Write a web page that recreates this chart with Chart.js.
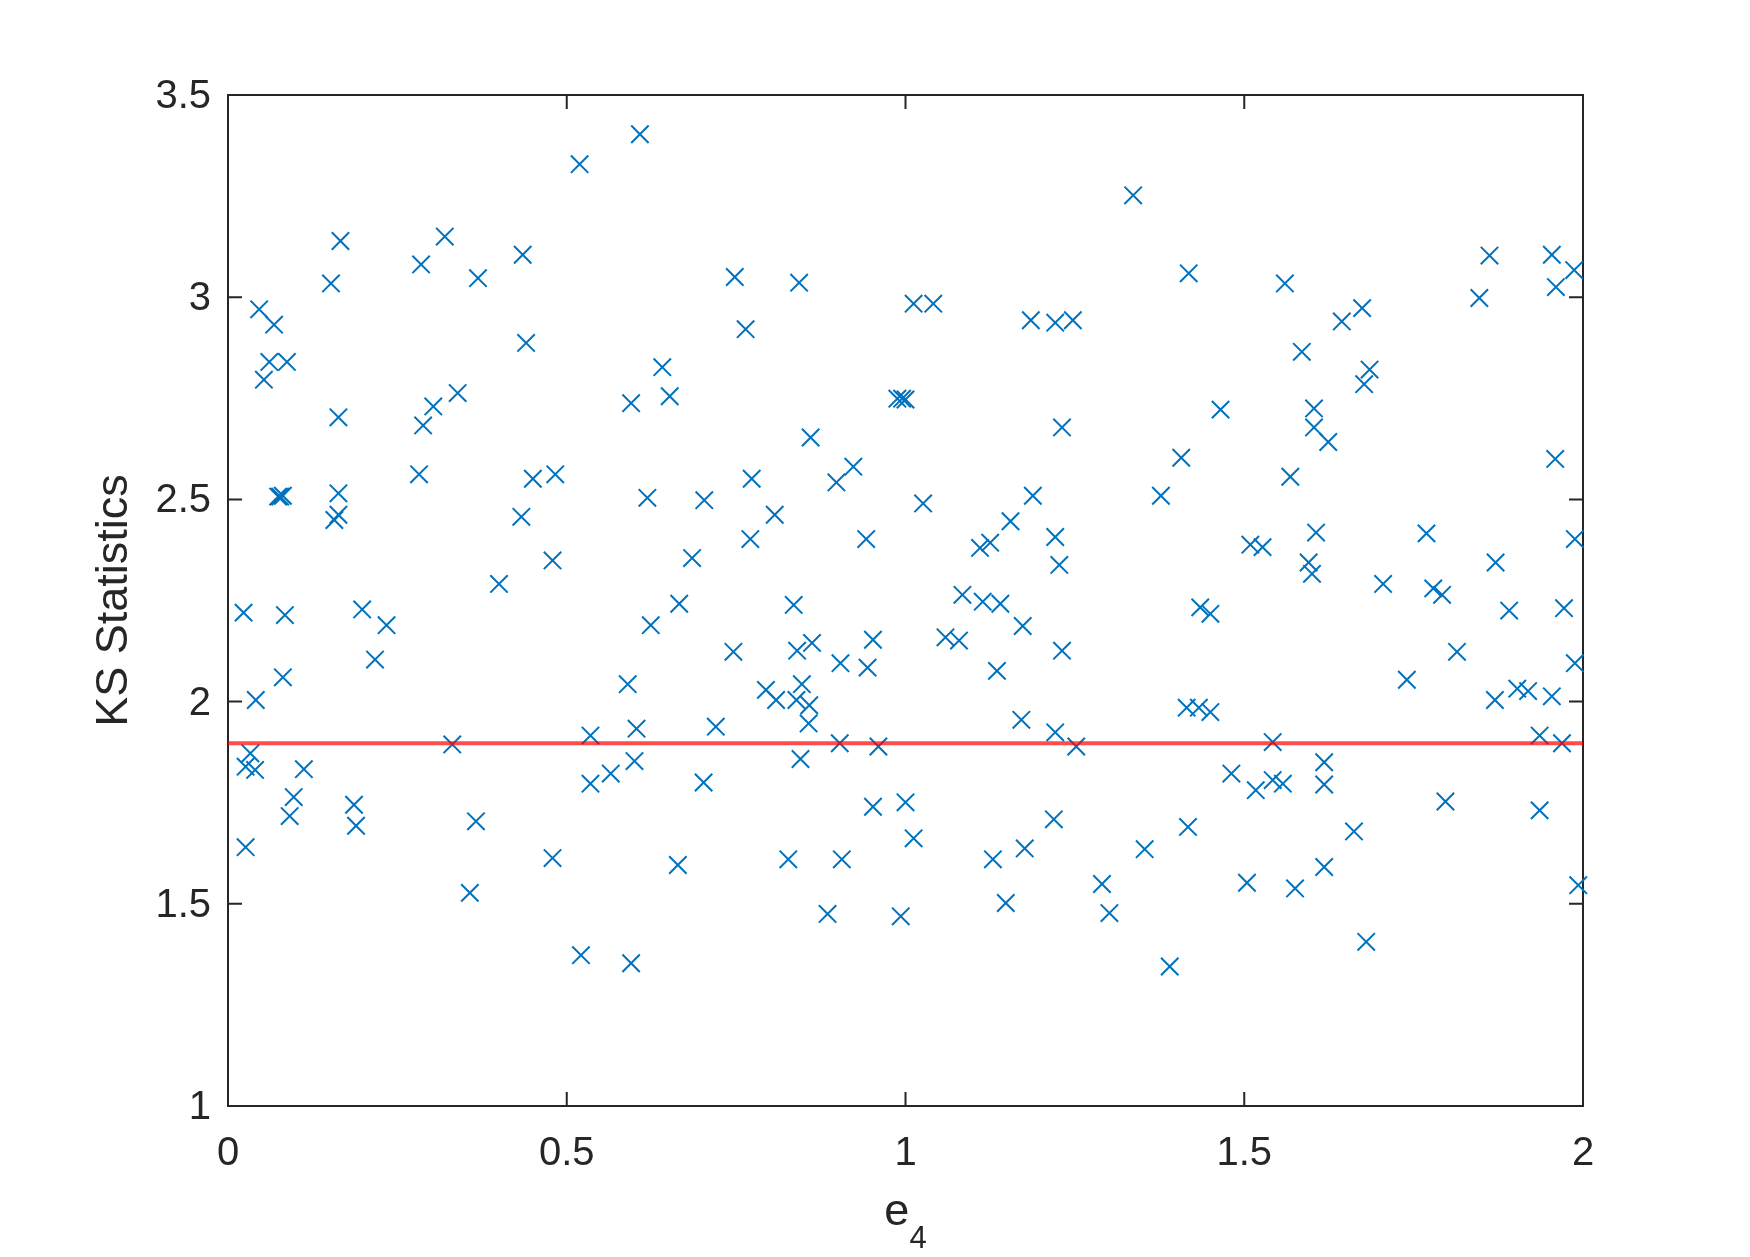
<!DOCTYPE html>
<html>
<head>
<meta charset="utf-8">
<script src="https://cdn.jsdelivr.net/npm/chart.js@4"></script>
<style>
  html, body { margin: 0; padding: 0; background: #fff; }
  canvas { display: block; }
</style>
</head>
<body>
<canvas id="ksChart" width="1750" height="1257"></canvas>
<script>
// e4 parameter and the KS statistic for each run
const e4Values = [
  0.023, 0.046, 0.068, 0.061, 0.053, 0.087, 0.074, 0.077, 0.081, 0.081,
  0.084, 0.041, 0.033, 0.026, 0.040, 0.026, 0.091, 0.097, 0.112, 0.152,
  0.166, 0.163, 0.163, 0.157, 0.163, 0.186, 0.189, 0.198, 0.217, 0.234,
  0.285, 0.320, 0.303, 0.288, 0.282, 0.339, 0.331, 0.369, 0.366, 0.357,
  0.400, 0.435, 0.440, 0.433, 0.450, 0.483, 0.479, 0.479, 0.519, 0.608,
  0.521, 0.535, 0.535, 0.565, 0.595, 0.590, 0.603, 0.600, 0.595, 0.619,
  0.624, 0.641, 0.652, 0.666, 0.664, 0.685, 0.703, 0.702, 0.720, 0.748,
  0.764, 0.773, 0.771, 0.746, 0.794, 0.807, 0.809, 0.843, 0.835, 0.840,
  0.847, 0.839, 0.858, 0.857, 0.845, 0.827, 0.860, 0.862, 0.885, 0.898,
  0.923, 0.904, 0.903, 0.906, 0.942, 0.944, 0.952, 0.952, 0.960, 0.988,
  0.995, 1.000, 0.993, 1.000, 1.012, 1.012, 1.041, 1.026, 1.059, 1.079,
  1.084, 1.110, 1.125, 1.114, 1.140, 1.155, 1.135, 1.129, 1.148, 1.171,
  1.173, 1.185, 1.188, 1.176, 1.221, 1.247, 1.231, 1.221, 1.227, 1.231,
  1.221, 1.219, 1.252, 1.290, 1.301, 1.336, 1.353, 1.377, 1.390, 1.407,
  1.418, 1.415, 1.433, 1.450, 1.417, 1.435, 1.450, 1.465, 1.481, 1.504,
  1.509, 1.527, 1.517, 1.542, 1.542, 1.557, 1.560, 1.568, 1.575, 1.585,
  1.595, 1.600, 1.603, 1.603, 1.606, 1.624, 1.618, 1.618, 1.618, 1.644,
  1.662, 1.674, 1.685, 1.677, 1.680, 1.705, 1.740, 1.769, 1.779, 1.792,
  1.797, 1.814, 1.847, 1.862, 1.871, 1.870, 1.891, 1.903, 1.919, 1.936,
  1.936, 1.954, 1.960, 1.959, 1.954, 1.972, 1.969, 1.987, 1.988, 1.988, 1.993
];
const ksValues = [
  2.220, 2.970, 2.932, 2.840, 2.796, 2.840, 2.507, 2.507, 2.509, 2.060,
  2.214, 2.004, 1.872, 1.839, 1.831, 1.640, 1.717, 1.764, 1.833, 3.034,
  3.139, 2.703, 2.515, 2.449, 2.462, 1.745, 1.693, 2.228, 2.104, 2.189,
  3.081, 3.150, 2.730, 2.683, 2.562, 2.763, 1.894, 3.047, 1.704, 1.527,
  2.291, 3.105, 2.887, 2.457, 2.551, 2.562, 2.349, 1.613, 3.329, 3.403,
  1.373, 1.916, 1.797, 1.822, 2.738, 2.043, 1.933, 1.853, 1.353, 2.504,
  2.189, 2.827, 2.755, 2.242, 1.596, 2.355, 2.498, 1.800, 1.938, 3.050,
  2.921, 2.551, 2.402, 2.123, 2.029, 2.462, 2.004, 3.036, 2.239, 2.126,
  2.043, 2.004, 1.991, 1.946, 1.858, 1.610, 2.653, 2.145, 1.475, 2.542,
  2.581, 2.095, 1.897, 1.610, 2.402, 2.084, 2.153, 1.740, 1.889, 2.749,
  2.749, 2.747, 1.469, 1.751, 1.662, 2.984, 2.984, 2.490, 2.159, 2.151,
  2.264, 2.380, 2.393, 2.247, 2.242, 2.446, 2.076, 1.610, 1.502, 1.955,
  2.187, 2.943, 2.509, 1.637, 2.937, 2.943, 2.678, 2.407, 2.338, 2.126,
  1.924, 1.709, 1.889, 1.549, 1.477, 3.252, 1.635, 2.509, 1.345, 2.603,
  3.059, 1.985, 1.985, 1.974, 1.690, 2.233, 2.217, 2.722, 1.822, 1.552,
  2.388, 2.382, 1.781, 1.900, 1.806, 1.797, 3.034, 2.556, 1.538, 2.865,
  2.344, 2.316, 2.725, 2.678, 2.418, 2.642, 1.850, 1.795, 1.591, 2.940,
  1.679, 2.973, 2.821, 2.785, 1.406, 2.291, 2.054, 2.416, 2.280, 2.264,
  1.753, 2.123, 2.998, 3.103, 2.344, 2.004, 2.225, 2.032, 2.026, 1.916,
  1.731, 3.105, 3.025, 2.600, 2.013, 2.231, 1.897, 3.067, 2.402, 2.095, 1.546
];
const ksThreshold = 1.897;   // red reference line
const xTickValues = [0, 0.5, 1, 1.5, 2];
const yTickValues = [1, 1.5, 2, 2.5, 3, 3.5];

const axisColor = '#262626';
const fontFamily = "'Liberation Sans', Arial, Helvetica, sans-serif";

const points = e4Values.map((x, i) => ({ x: x, y: ksValues[i] }));

// matlab style axes: full box, ticks pointing inwards on all sides, e_4 label
const matlabAxes = {
  id: 'matlabAxes',
  beforeDatasetsDraw(chart) {
    const { ctx, chartArea: a, scales } = chart;
    const len = 14;
    ctx.save();
    ctx.strokeStyle = axisColor;
    ctx.lineWidth = 2;
    ctx.strokeRect(a.left, a.top, a.right - a.left, a.bottom - a.top);
    ctx.beginPath();
    scales.x.ticks.forEach(t => {
      const px = scales.x.getPixelForValue(t.value);
      ctx.moveTo(px, a.bottom); ctx.lineTo(px, a.bottom - len);
      ctx.moveTo(px, a.top); ctx.lineTo(px, a.top + len);
    });
    scales.y.ticks.forEach(t => {
      const py = scales.y.getPixelForValue(t.value);
      ctx.moveTo(a.left, py); ctx.lineTo(a.left + len, py);
      ctx.moveTo(a.right, py); ctx.lineTo(a.right - len, py);
    });
    ctx.stroke();
    ctx.restore();
  },
  afterDraw(chart) {
    const { ctx, chartArea: a } = chart;
    const cx = (a.left + a.right) / 2;
    ctx.save();
    ctx.fillStyle = axisColor;
    ctx.textBaseline = 'alphabetic';
    ctx.textAlign = 'left';
    ctx.font = '45px ' + fontFamily;
    const eW = ctx.measureText('e').width;
    ctx.font = '31px ' + fontFamily;
    const sW = ctx.measureText('4').width;
    const x0 = cx - (eW + sW) / 2;
    ctx.font = '45px ' + fontFamily;
    ctx.fillText('e', x0, a.bottom + 119);
    ctx.font = '31px ' + fontFamily;
    ctx.fillText('4', x0 + eW, a.bottom + 142);
    ctx.restore();
  }
};

new Chart(document.getElementById('ksChart'), {
  type: 'scatter',
  data: {
    datasets: [
      {
        type: 'line',
        label: 'threshold',
        data: [
          { x: xTickValues[0], y: ksThreshold },
          { x: xTickValues[xTickValues.length - 1], y: ksThreshold }
        ],
        borderColor: 'rgba(255, 0, 0, 0.7)',
        borderWidth: 4,
        pointRadius: 0,
        order: 0
      },
      {
        label: 'KS Statistics',
        data: points,
        pointStyle: 'crossRot',
        pointRadius: 12.3,
        pointHoverRadius: 12.3,
        borderColor: '#0072BD',
        backgroundColor: '#0072BD',
        borderWidth: 2,
        pointBorderWidth: 2,
        clip: false,
        order: 1
      }
    ]
  },
  options: {
    responsive: false,
    animation: false,
    devicePixelRatio: 1,
    events: [],
    layout: { padding: { top: 95, right: 167, left: 0, bottom: 0 } },
    plugins: {
      legend: { display: false },
      tooltip: { enabled: false }
    },
    scales: {
      x: {
        type: 'linear',
        min: 0,
        max: 2,
        grid: { display: false, drawTicks: false },
        border: { display: false },
        afterBuildTicks: s => { s.ticks = xTickValues.map(v => ({ value: v })); },
        afterFit: s => { s.height = 151; },
        ticks: {
          color: axisColor,
          font: { family: fontFamily, size: 40 },
          padding: 24,
          maxRotation: 0,
          autoSkip: false,
          callback: v => String(v)
        }
      },
      y: {
        type: 'linear',
        min: 1,
        max: 3.5,
        grid: { display: false, drawTicks: false },
        border: { display: false },
        afterBuildTicks: s => { s.ticks = yTickValues.map(v => ({ value: v })); },
        afterFit: s => { s.width = 228; },
        ticks: {
          color: axisColor,
          font: { family: fontFamily, size: 40 },
          padding: 17,
          labelOffset: 2,
          autoSkip: false,
          callback: v => String(v)
        },
        title: {
          display: true,
          text: 'KS Statistics',
          color: axisColor,
          font: { family: fontFamily, size: 45 },
          padding: { top: 88, bottom: 0 }
        }
      }
    }
  },
  plugins: [matlabAxes]
});
</script>
</body>
</html>
